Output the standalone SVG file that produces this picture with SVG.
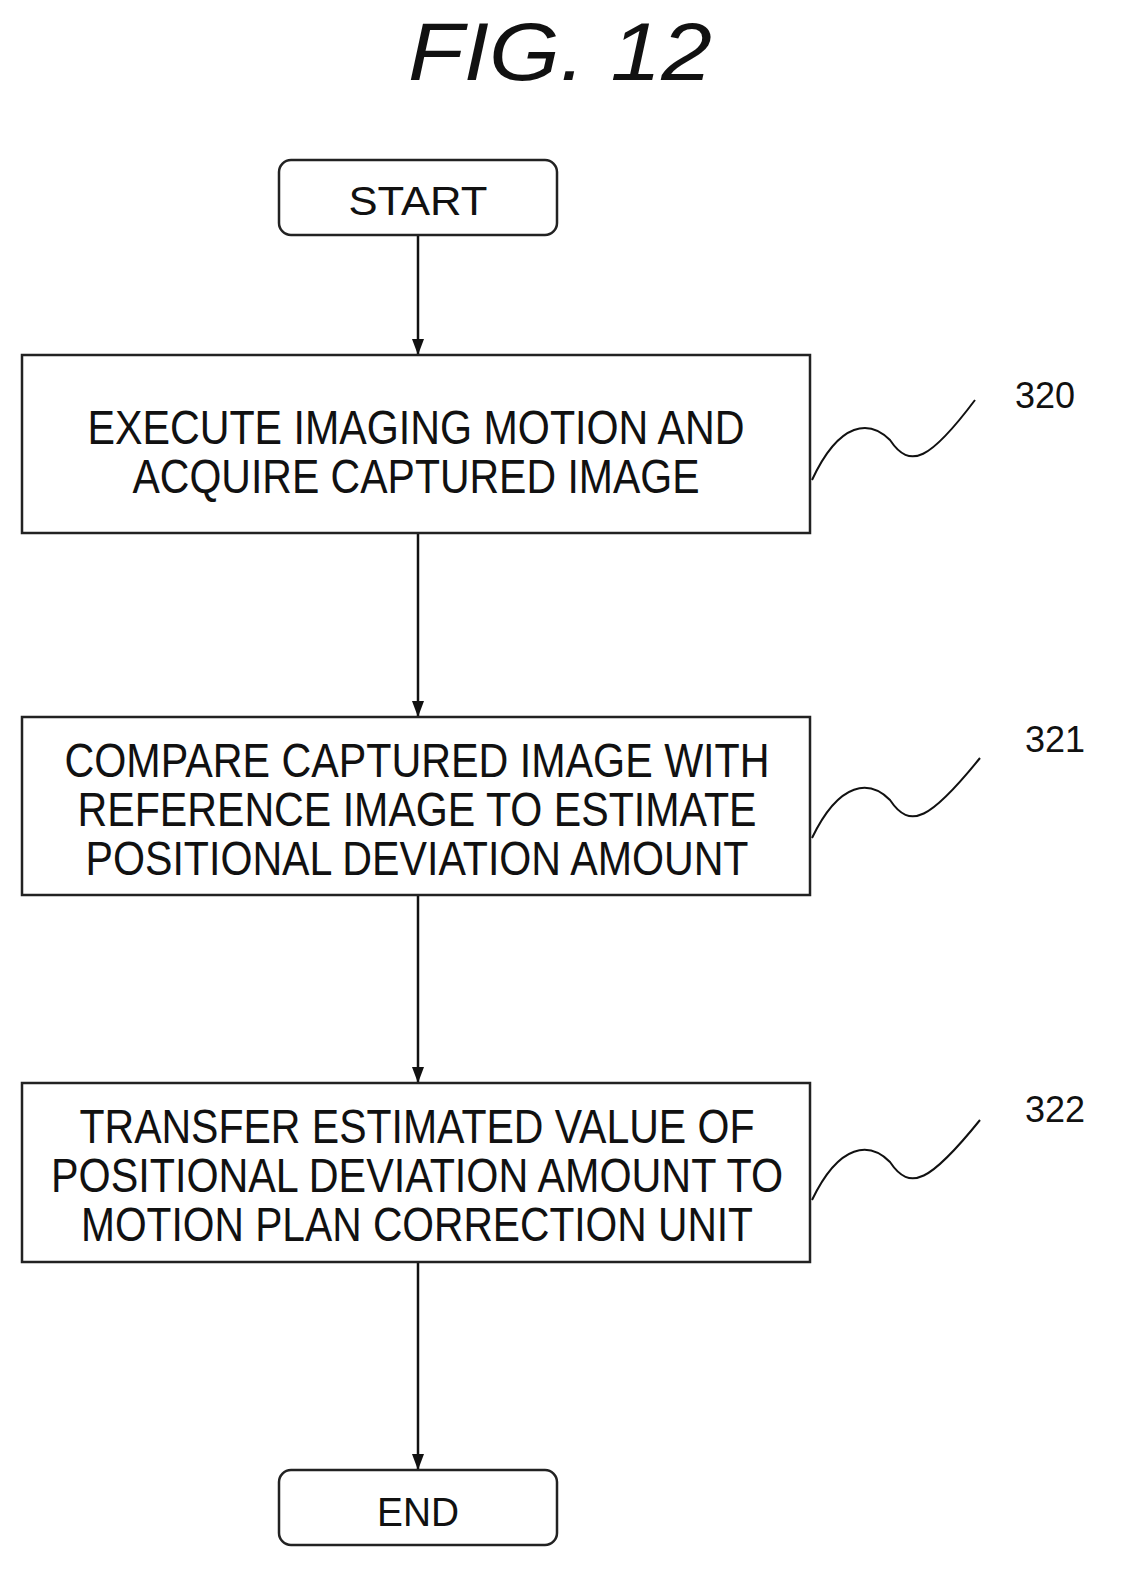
<svg xmlns="http://www.w3.org/2000/svg" width="1131" height="1593" viewBox="0 0 1131 1593">
<defs>
<marker id="ah" markerWidth="16" markerHeight="12" refX="16" refY="6" orient="auto" markerUnits="userSpaceOnUse"><path d="M0,0 L16,6 L0,12 Z" fill="#111"/></marker>
<style>
.b{fill:#fff;stroke:#222;stroke-width:2.5}
.t{font-family:"Liberation Sans",Arial,sans-serif;font-size:48px;fill:#111;text-anchor:middle}
.s{font-family:"Liberation Sans",Arial,sans-serif;font-size:40px;fill:#111;text-anchor:middle}
.n{font-family:"Liberation Sans",Arial,sans-serif;font-size:36px;fill:#111}
.c{fill:none;stroke:#111;stroke-width:2.5}
.w{fill:none;stroke:#111;stroke-width:2}
</style>
</defs>
<rect width="1131" height="1593" fill="#fff"/>
<text x="560" y="80" font-family="Liberation Sans,Arial,sans-serif" font-style="italic" font-size="82" text-anchor="middle" fill="#111" textLength="304" lengthAdjust="spacingAndGlyphs">FIG. 12</text>
<g id="connectors">
<line class="c" x1="418" y1="235" x2="418" y2="355" marker-end="url(#ah)"/>
<line class="c" x1="418" y1="533" x2="418" y2="717" marker-end="url(#ah)"/>
<line class="c" x1="418" y1="895" x2="418" y2="1083" marker-end="url(#ah)"/>
<line class="c" x1="418" y1="1262" x2="418" y2="1470" marker-end="url(#ah)"/>
</g>
<g id="start"><rect class="b" x="279" y="160" width="278" height="75" rx="12"/><text class="s" x="418" y="215" textLength="139" lengthAdjust="spacingAndGlyphs">START</text></g>
<g id="n320"><rect class="b" x="22" y="355" width="788" height="178"/>
<text class="t" x="416" y="444" textLength="657" lengthAdjust="spacingAndGlyphs">EXECUTE IMAGING MOTION AND</text>
<text class="t" x="416" y="493" textLength="567" lengthAdjust="spacingAndGlyphs">ACQUIRE CAPTURED IMAGE</text>
<path class="w" d="M812,480 C840,420 870,420 890,440 C910,470 930,460 975,400"/>
<text class="n" x="1015" y="408">320</text></g>
<g id="n321"><rect class="b" x="22" y="717" width="788" height="178"/>
<text class="t" x="417" y="777" textLength="705" lengthAdjust="spacingAndGlyphs">COMPARE CAPTURED IMAGE WITH</text>
<text class="t" x="417" y="826" textLength="679" lengthAdjust="spacingAndGlyphs">REFERENCE IMAGE TO ESTIMATE</text>
<text class="t" x="417" y="875" textLength="663" lengthAdjust="spacingAndGlyphs">POSITIONAL DEVIATION AMOUNT</text>
<path class="w" d="M812,838 C840,780 870,780 890,800 C910,830 930,820 980,758"/>
<text class="n" x="1025" y="752">321</text></g>
<g id="n322"><rect class="b" x="22" y="1083" width="788" height="179"/>
<text class="t" x="417" y="1143" textLength="675" lengthAdjust="spacingAndGlyphs">TRANSFER ESTIMATED VALUE OF</text>
<text class="t" x="417" y="1192" textLength="732" lengthAdjust="spacingAndGlyphs">POSITIONAL DEVIATION AMOUNT TO</text>
<text class="t" x="417" y="1241" textLength="672" lengthAdjust="spacingAndGlyphs">MOTION PLAN CORRECTION UNIT</text>
<path class="w" d="M812,1200 C840,1142 870,1142 890,1162 C910,1192 930,1182 980,1120"/>
<text class="n" x="1025" y="1122">322</text></g>
<g id="end"><rect class="b" x="279" y="1470" width="278" height="75" rx="12"/><text class="s" x="418" y="1526" textLength="82" lengthAdjust="spacingAndGlyphs">END</text></g>
</svg>
